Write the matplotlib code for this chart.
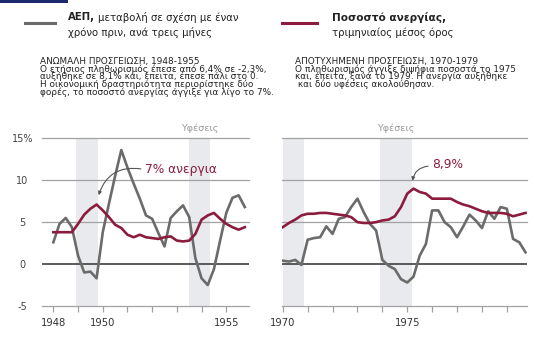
import numpy as np
import matplotlib.pyplot as plt
from matplotlib.patches import Rectangle

plt.rcParams['font.family'] = ['DejaVu Sans']

W, H = 554, 353
GREY = '#6b6b6b'
RED = '#8c1c3e'
GRID = '#a2a2a2'
TXT = '#222222'

# quarterly data, 1948Q1 - 1955Q4
gdp_48 = [2.6, 4.8, 5.5, 4.4, 1.0, -1.0, -0.9, -1.7,
          3.8, 7.2, 10.5, 13.6, 11.5, 9.6, 7.8, 5.8,
          5.4, 3.7, 2.1, 5.5, 6.3, 7.0, 5.6, 0.7,
          -1.7, -2.5, -0.6, 2.8, 6.1, 7.9, 8.2, 6.8]
unemp_48 = [3.8, 3.8, 3.8, 3.8, 4.8, 5.9, 6.6, 7.1,
            6.4, 5.6, 4.7, 4.3, 3.5, 3.2, 3.5, 3.2,
            3.1, 3.0, 3.2, 3.3, 2.8, 2.7, 2.8, 3.6,
            5.3, 5.8, 6.1, 5.4, 4.8, 4.4, 4.1, 4.4]

# quarterly data, 1970Q1 - 1979Q4
gdp_70 = [0.4, 0.3, 0.5, -0.1, 2.9, 3.1, 3.2, 4.5,
          3.6, 5.4, 5.6, 6.8, 7.8, 6.2, 4.8, 4.0,
          0.5, -0.2, -0.6, -1.8, -2.2, -1.5, 1.0, 2.4,
          6.4, 6.4, 5.0, 4.4, 3.2, 4.5, 5.9, 5.2,
          4.3, 6.3, 5.4, 6.8, 6.6, 3.0, 2.6, 1.4]
unemp_70 = [4.4, 4.9, 5.3, 5.8, 6.0, 6.0, 6.1, 6.1,
            6.0, 5.9, 5.8, 5.6, 5.0, 4.9, 4.9, 5.0,
            5.2, 5.3, 5.7, 6.8, 8.4, 9.0, 8.6, 8.4,
            7.8, 7.8, 7.8, 7.8, 7.4, 7.1, 6.9, 6.6,
            6.3, 6.1, 6.1, 6.1, 6.0, 5.7, 5.9, 6.1]

rec_48 = [(1948.9, 1949.8), (1953.5, 1954.35)]
rec_70 = [(1970.0, 1970.85), (1973.9, 1975.2)]

ticks_48 = list(range(1948, 1956))
ticks_70 = list(range(1970, 1980))
labels_48 = {1948: '1948', 1950: '1950', 1955: '1955'}
labels_70 = {1970: '1970', 1975: '1975'}

left_notes = ['ΑΝΩΜΑΛΗ ΠΡΟΣΓΕΙΩΣΗ, 1948-1955',
              'Ο ετήσιος πληθωρισμός έπεσε από 6,4% σε -2,3%,',
              'αυξήθηκε σε 8,1% και, έπειτα, έπεσε πάλι στο 0.',
              'Η οικονομική δραστηριότητα περιορίστηκε δύο',
              'φορές, το ποσοστό ανεργίας άγγιξε για λίγο το 7%.']
right_notes = ['ΑΠΟΤΥΧΗΜΕΝΗ ΠΡΟΣΓΕΙΩΣΗ, 1970-1979',
               'Ο πληθωρισμός άγγιξε διψήφια ποσοστά το 1975',
               'και, έπειτα, ξανά το 1979. Η ανεργία αυξήθηκε',
               ' και δύο υφέσεις ακολούθησαν.']

q48 = 1948 + np.arange(len(gdp_48)) / 4
q70 = 1970 + np.arange(len(gdp_70)) / 4

fig = plt.figure(figsize=(W / 100, H / 100), dpi=100)


def fx(x):
    return x / W


def fy(y):
    return 1 - y / H


ax1 = fig.add_axes([fx(42), fy(306), (249 - 42) / W, (306 - 138.3) / H])
ax2 = fig.add_axes([fx(282), fy(306), (527 - 282) / W, (306 - 138.3) / H])


def panel(ax, q, gdp, unemp, rec, xlim, ticks, labels):
    for a, b in rec:
        ax.axvspan(a, b, color='#e8eaed', lw=0, zorder=0)
    for y in (5, 10, 15):
        ax.axhline(y, color=GRID, lw=0.9, zorder=1, clip_on=False)
    ax.axhline(0, color='#4d4d4d', lw=1.3, zorder=1)
    ax.plot(q, gdp, color=GREY, lw=1.9, zorder=3)
    ax.plot(q, unemp, color=RED, lw=1.9, zorder=4)
    ax.set_xlim(xlim)
    ax.set_ylim(-5, 15)
    for s in ('top', 'right', 'left'):
        ax.spines[s].set_visible(False)
    ax.spines['bottom'].set_color(GRID)
    ax.spines['bottom'].set_linewidth(0.9)
    ax.set_xticks(ticks)
    ax.set_xticklabels([labels.get(t, '') for t in ticks])
    ax.tick_params(axis='x', length=4, width=0.9, color=GRID, labelsize=7.2,
                   labelcolor='#333333', pad=5)
    ax.set_facecolor('none')
    a, b = rec[1]
    ax.text((a + b) / 2, 16.2, 'Υφέσεις', ha='center', va='center',
            color='#9a9a9a', fontsize=6.8)


panel(ax1, q48, gdp_48, unemp_48, rec_48, (1947.54, 1955.92), ticks_48, labels_48)
panel(ax2, q70, gdp_70, unemp_70, rec_70, (1969.97, 1979.81), ticks_70, labels_70)

ax1.set_yticks([-5, 0, 5, 10, 15])
ax1.set_yticklabels(['-5', '0', '5', '10', '15%'])
ax1.tick_params(axis='y', length=0, pad=14, labelsize=7, labelcolor='#444444')
for lab in ax1.get_yticklabels():
    lab.set_ha('center')
ax2.set_yticks([])

# annotations
ax1.annotate('', xy=(1949.8, 7.9), xytext=(1951.65, 11.3),
             arrowprops=dict(arrowstyle='-|>', color='#555555', lw=0.8,
                             mutation_scale=5,
                             connectionstyle='arc3,rad=0.45'))
ax1.text(1951.7, 11.25, '7% ανεργια', color=RED, fontsize=8.8,
         ha='left', va='center')
ax2.annotate('', xy=(1975.2, 9.6), xytext=(1975.95, 11.7),
             arrowprops=dict(arrowstyle='-|>', color='#555555', lw=0.8,
                             mutation_scale=5,
                             connectionstyle='arc3,rad=0.45'))
ax2.text(1976.0, 11.9, '8,9%', color=RED, fontsize=8.8, ha='left', va='center')

# header
fig.patches.append(Rectangle((0, fy(3)), fx(68), 3 / H, transform=fig.transFigure,
                             color='#1c2a6b', lw=0))
fig.add_artist(plt.Line2D([fx(25), fx(55)], [fy(22.5), fy(22.5)], color=GREY, lw=2.2))
fig.add_artist(plt.Line2D([fx(282), fx(317)], [fy(22.5), fy(22.5)], color=RED, lw=2.2))

renderer = fig.canvas.get_renderer()


def bold_then(x, y, bold, rest, size):
    t = fig.text(fx(x), fy(y), bold, fontsize=size, fontweight='bold',
                 color=TXT, va='center', ha='left')
    if rest:
        bb = t.get_window_extent(renderer)
        fig.text(fx(bb.x1 + 3), fy(y), rest, fontsize=size, color=TXT,
                 va='center', ha='left')


bold_then(68, 17.5, 'ΑΕΠ,', 'μεταβολή σε σχέση με έναν', 7.3)
fig.text(fx(68), fy(33), 'χρόνο πριν, ανά τρεις μήνες', fontsize=7.3,
         color=TXT, va='center', ha='left')
bold_then(332, 17.5, 'Ποσοστό ανεργίας,', '', 7.6)
fig.text(fx(332), fy(33), 'τριμηνιαίος μέσος όρος', fontsize=7.3,
         color=TXT, va='center', ha='left')

fig.text(fx(40), fy(57), '\n'.join(left_notes), fontsize=6.4, color=TXT,
         va='top', ha='left', linespacing=0.76)
fig.text(fx(295), fy(57), '\n'.join(right_notes), fontsize=6.4, color=TXT,
         va='top', ha='left', linespacing=0.76)

fig.savefig('out.png', dpi=100, facecolor='white')
